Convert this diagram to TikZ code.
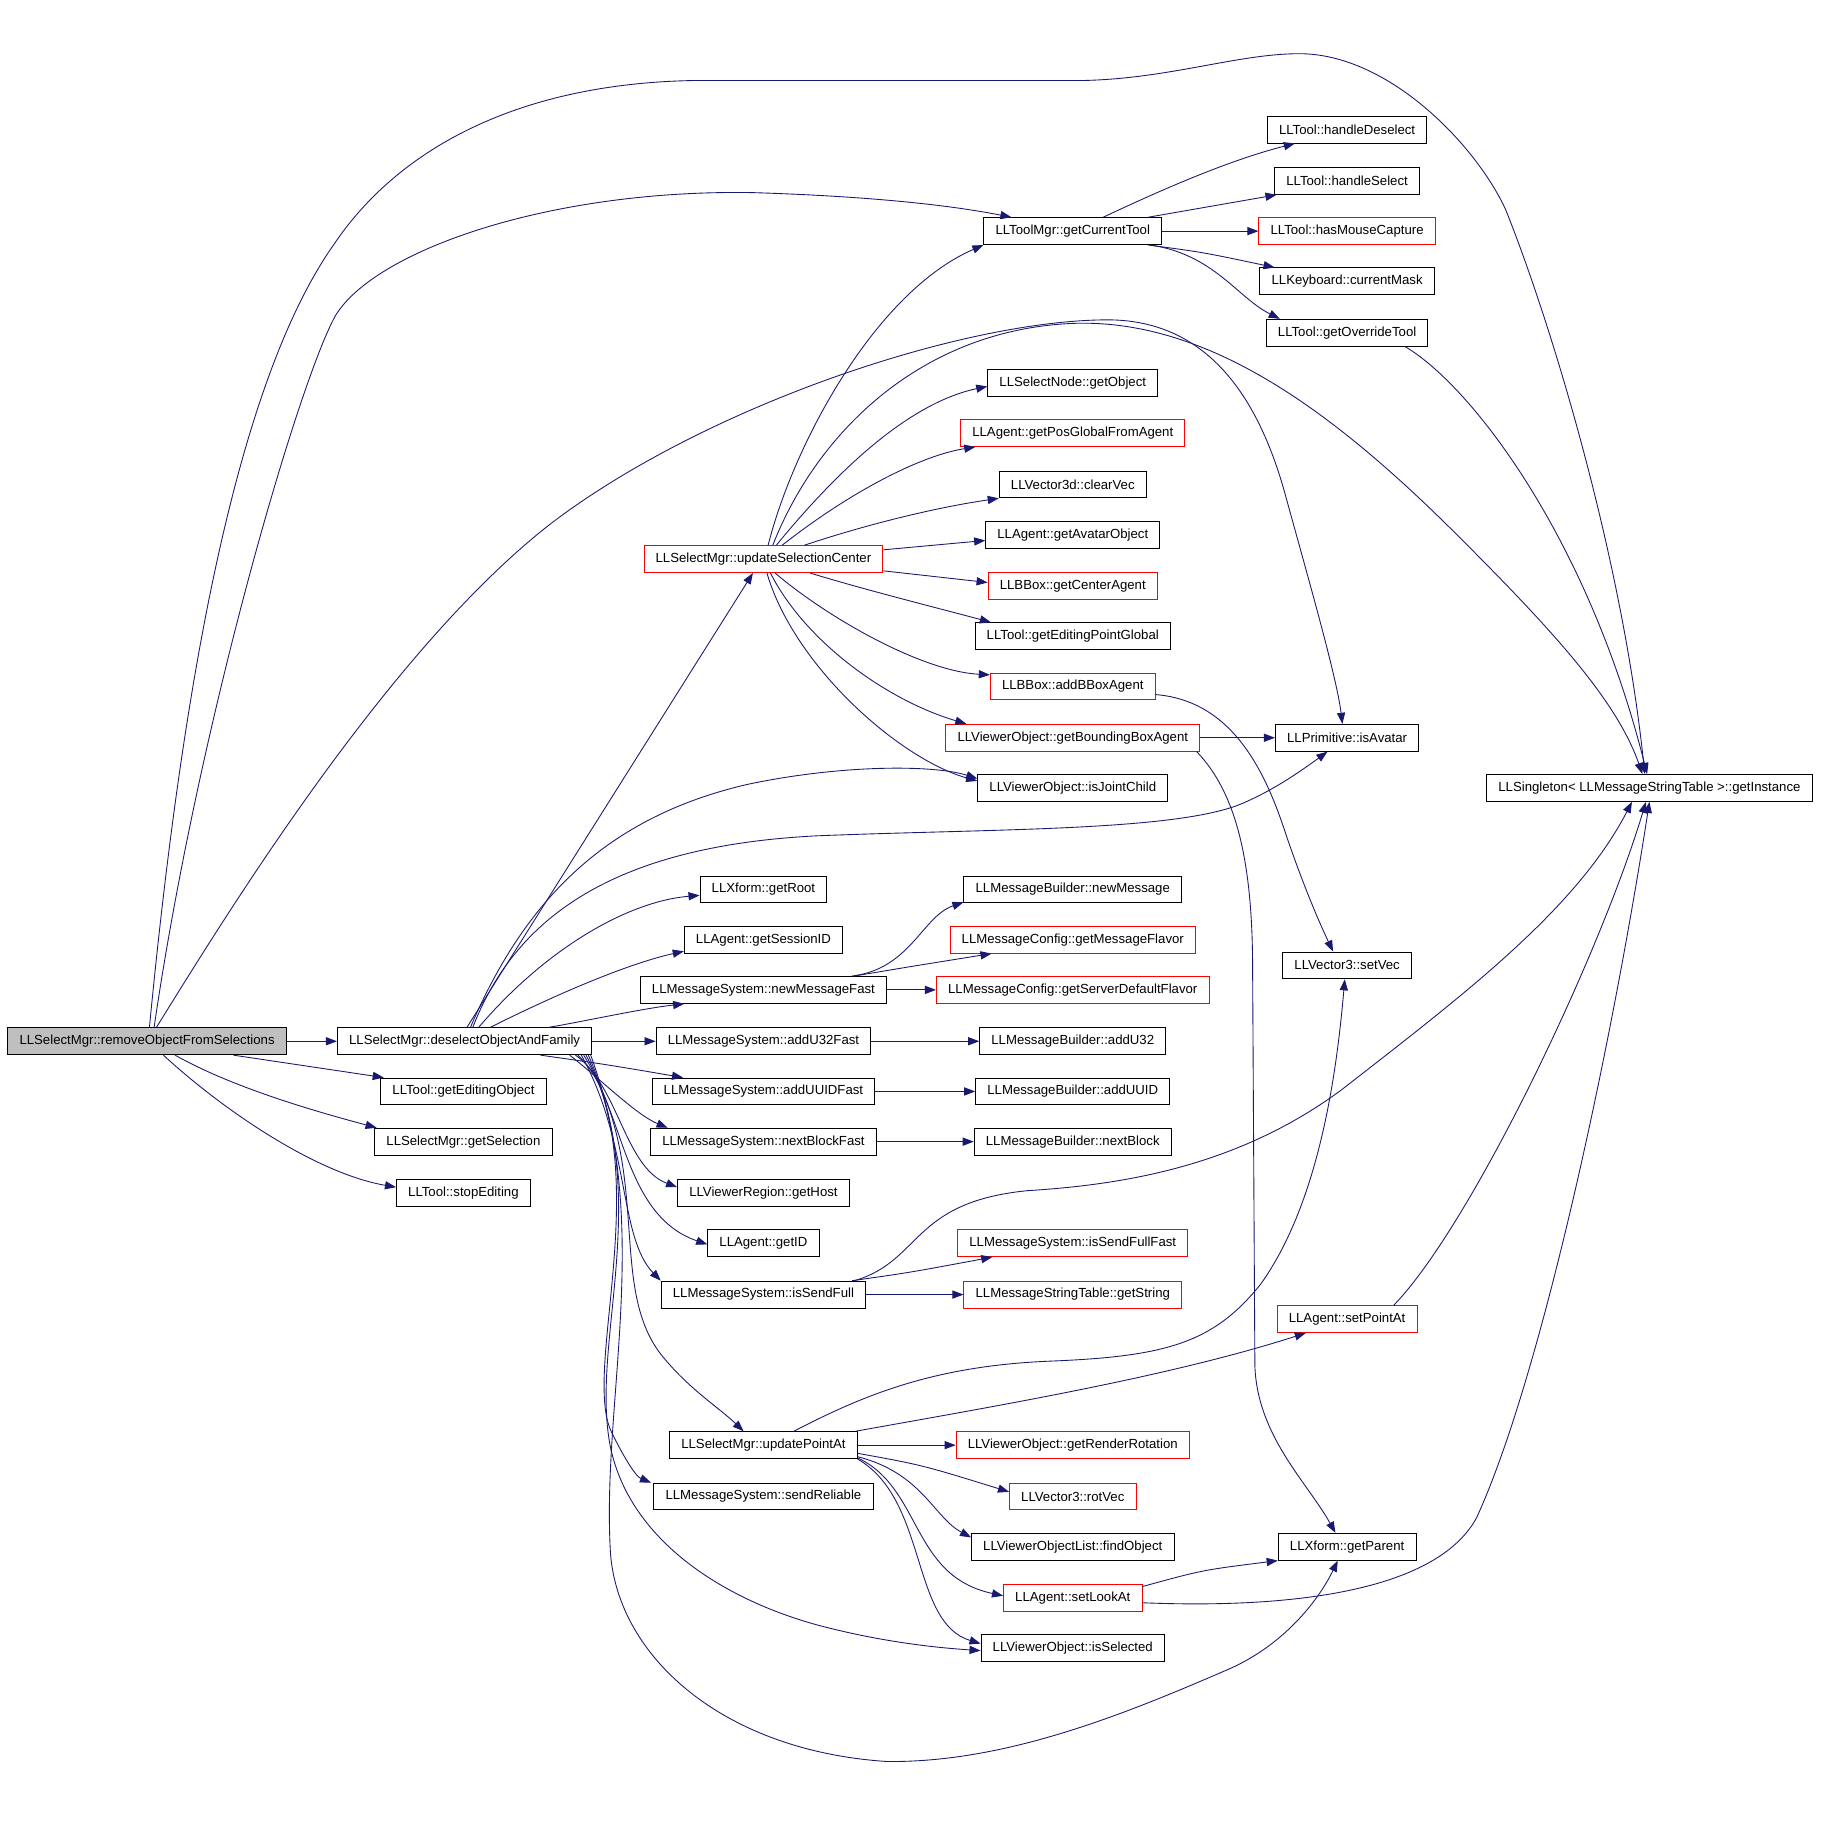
\documentclass[tikz,border=0pt]{standalone}
\usepackage{fontspec}
\setmainfont{Liberation Sans}
\usetikzlibrary{arrows.meta,calc}
\definecolor{edgeblue}{RGB}{25,25,112}
\begin{document}
\begin{tikzpicture}[x=1pt,y=-1pt,
  nd/.style={draw=black,line width=0.8pt,inner xsep=10pt,inner ysep=0pt,minimum height=23pt,font=\fontsize{11.3}{13}\selectfont,anchor=center},
  rd/.style={nd,draw=red},
  gd/.style={nd,fill=black!25},
  e/.style={draw=edgeblue,line width=0.75pt,-{Triangle[length=9.5pt,width=7pt]}},
]
\useasboundingbox[fill=white] (0,0) rectangle (1560,1569.4);
% column 1-2
\node[gd] (R) at (126,892) {LLSelectMgr::removeObjectFromSelections};
\node[nd] (D) at (398,892) {LLSelectMgr::deselectObjectAndFamily};
\node[nd] (GEO) at (397,935) {LLTool::getEditingObject};
\node[nd] (GS) at (397,978) {LLSelectMgr::getSelection};
\node[nd] (SE) at (397,1022) {LLTool::stopEditing};
% column 3
\node[rd] (U) at (654,479) {LLSelectMgr::updateSelectionCenter};
\node[nd] (GR) at (654,762) {LLXform::getRoot};
\node[nd] (SID) at (654,805) {LLAgent::getSessionID};
\node[nd] (NMF) at (654,848) {LLMessageSystem::newMessageFast};
\node[nd] (AU32F) at (654,892) {LLMessageSystem::addU32Fast};
\node[nd] (AUUF) at (654,935) {LLMessageSystem::addUUIDFast};
\node[nd] (NBF) at (654,978) {LLMessageSystem::nextBlockFast};
\node[nd] (GH) at (654,1022) {LLViewerRegion::getHost};
\node[nd] (GID) at (654,1065) {LLAgent::getID};
\node[nd] (ISF) at (654,1109) {LLMessageSystem::isSendFull};
\node[nd] (UPA) at (654,1238) {LLSelectMgr::updatePointAt};
\node[nd] (SR) at (654,1282) {LLMessageSystem::sendReliable};
% column 4
\node[nd] (T) at (919,198) {LLToolMgr::getCurrentTool};
\node[nd] (SNGO) at (919,328) {LLSelectNode::getObject};
\node[rd] (GPGA) at (919,371) {LLAgent::getPosGlobalFromAgent};
\node[nd] (CV) at (919,415) {LLVector3d::clearVec};
\node[nd] (GAO) at (919,458) {LLAgent::getAvatarObject};
\node[rd] (GCA) at (919,502) {LLBBox::getCenterAgent};
\node[nd] (GEPG) at (919,545) {LLTool::getEditingPointGlobal};
\node[rd] (ABA) at (919,588) {LLBBox::addBBoxAgent};
\node[rd] (GBBA) at (919,632) {LLViewerObject::getBoundingBoxAgent};
\node[nd] (IJC) at (919,675) {LLViewerObject::isJointChild};
\node[nd] (NM) at (919,762) {LLMessageBuilder::newMessage};
\node[rd] (GMF) at (919,805) {LLMessageConfig::getMessageFlavor};
\node[rd] (GSDF) at (919,848) {LLMessageConfig::getServerDefaultFlavor};
\node[nd] (AU32) at (919,892) {LLMessageBuilder::addU32};
\node[nd] (AUU) at (919,935) {LLMessageBuilder::addUUID};
\node[nd] (NB) at (919,978) {LLMessageBuilder::nextBlock};
\node[rd] (ISFF) at (919,1065) {LLMessageSystem::isSendFullFast};
\node[rd] (GSTR) at (919,1109) {LLMessageStringTable::getString};
\node[rd] (GRR) at (919,1238) {LLViewerObject::getRenderRotation};
\node[rd] (RV) at (919,1282) {LLVector3::rotVec};
\node[nd] (FO) at (919,1325) {LLViewerObjectList::findObject};
\node[rd] (SLA) at (919,1369) {LLAgent::setLookAt};
\node[nd] (IS) at (919,1412) {LLViewerObject::isSelected};
% column 5
\node[nd] (HD) at (1154,111) {LLTool::handleDeselect};
\node[nd] (HS) at (1154,155) {LLTool::handleSelect};
\node[rd] (HMC) at (1154,198) {LLTool::hasMouseCapture};
\node[nd] (CM) at (1154,241) {LLKeyboard::currentMask};
\node[nd] (GOT) at (1154,285) {LLTool::getOverrideTool};
\node[nd] (IA) at (1154,632) {LLPrimitive::isAvatar};
\node[nd] (SV) at (1154,827) {LLVector3::setVec};
\node[rd] (SPA) at (1154,1130) {LLAgent::setPointAt};
\node[nd] (GP) at (1154,1325) {LLXform::getParent};
% column 6
\node[nd] (LS) at (1413,675) {LLSingleton< LLMessageStringTable >::getInstance};

% ---- edges from R
\draw[e] (R) -- (D);
\draw[e] ($(R.south)+(74,0)$) -- ($(GEO.north west)+(3,0)$);
\draw[e] ($(R.south)+(24,0)$) .. controls (200,932) and (270,952) .. ($(GS.north west)+(2,0)$);
\draw[e] ($(R.south)+(14,0)$) .. controls (190,950) and (270,1005) .. ($(SE.west)+(0,-5)$);
\draw[e] ($(R.north)+(2,0)$) .. controls (155,600) and (200,330) .. (287,208) .. controls (340,130) and (440,72) .. (593,69) -- (925,69) .. controls (1000,68) and (1060,46) .. (1113,46) .. controls (1190,46) and (1265,125) .. (1290,180) .. controls (1330,280) and (1390,480) .. ($(LS.north)+(-4,0)$);
\draw[e] ($(R.north)+(6,0)$) .. controls (170,620) and (255,330) .. (287,271) .. controls (320,215) and (470,162) .. (645,165) .. controls (740,168) and (810,175) .. ($(T.north west)+(24,0)$);
\draw[e] ($(R.north)+(8,0)$) .. controls (190,790) and (330,560) .. (470,450) .. controls (600,350) and (820,275) .. (947,274) .. controls (1040,273) and (1080,350) .. (1100,420) .. controls (1122,500) and (1145,580) .. ($(IA.north)+(-4,0)$);

% ---- edges from U
\draw[e] ($(U.north)+(8,0)$) .. controls (700,370) and (790,282) .. (920,277) .. controls (1040,273) and (1150,360) .. (1250,460) .. controls (1330,540) and (1385,600) .. ($(LS.north)+(-6,0)$);
\draw[e] ($(U.north)+(4,0)$) .. controls (680,380) and (750,250) .. (T.south west);
\draw[e] ($(U.north)+(11,0)$) .. controls (720,400) and (780,345) .. ($(SNGO.west)+(0,3)$);
\draw[e] ($(U.north)+(16,0)$) .. controls (730,420) and (790,390) .. ($(GPGA.south west)+(13,0)$);
\draw[e] ($(U.north)+(35,0)$) .. controls (740,450) and (800,435) .. (CV.south west);
\draw[e] ($(U.east)+(0,-8)$) -- ($(GAO.west)+(0,5)$);
\draw[e] ($(U.east)+(0,10)$) -- ($(GCA.west)+(0,-3)$);
\draw[e] ($(U.south)+(40,0)$) .. controls (740,505) and (800,520) .. ($(GEPG.north west)+(14,0)$);
\draw[e] ($(U.south)+(10,0)$) .. controls (710,530) and (790,575) .. ($(ABA.north west)+(0,2)$);
\draw[e] ($(U.south)+(6,0)$) .. controls (690,550) and (760,600) .. ($(GBBA.north west)+(18,0)$);
\draw[e] ($(U.south)+(3,0)$) .. controls (680,570) and (770,650) .. ($(IJC.west)+(0,-6)$);

% ---- edges from D
\draw[e] ($(D.north)+(2,0)$) -- ($(U.south)+(-9,0)$);
\draw[e] ($(D.north)+(5,0)$) .. controls (450,770) and (520,700) .. (640,672) .. controls (720,655) and (800,655) .. ($(IJC.west)+(0,-8)$);
\draw[e] ($(D.north)+(7,0)$) .. controls (440,790) and (520,725) .. (700,716) .. controls (850,710) and (1000,712) .. (1060,690) .. controls (1090,678) and (1115,660) .. ($(IA.south west)+(45,0)$);
\draw[e] ($(D.north)+(12,0)$) .. controls (470,810) and (540,772) .. ($(GR.west)+(0,5)$);
\draw[e] ($(D.north)+(22,0)$) .. controls (480,850) and (540,825) .. ($(SID.south west)+(0,-2)$);
\draw[e] ($(D.north)+(72,0)$) .. controls (500,875) and (550,864) .. ($(NMF.south west)+(38,0)$);
\draw[e] (D) -- (AU32F);
\draw[e] ($(D.south)+(65,0)$) .. controls (520,912) .. ($(AUUF.north west)+(27,0)$);
\draw[e] ($(D.south)+(90,0)$) .. controls (515,925) and (545,955) .. ($(NBF.north west)+(15,0)$);
\draw[e] ($(D.south)+(95,0)$) .. controls (530,930) and (535,1000) .. ($(GH.west)+(0,-5)$);
\draw[e] ($(D.south)+(97,0)$) .. controls (535,940) and (530,1040) .. ($(GID.west)+(0,1)$);
\draw[e] ($(D.south)+(100,0)$) .. controls (540,980) and (530,1060) .. (ISF.north west);
\draw[e] ($(D.south)+(102,0)$) .. controls (560,1000) and (520,1100) .. (566,1160) .. controls (590,1190) and (615,1205) .. ($(UPA.north)+(-17,0)$);
\draw[e] ($(D.south)+(104,0)$) .. controls (560,1010) and (500,1170) .. (523,1225) .. controls (535,1250) and (545,1265) .. ($(SR.north west)+(-2,0)$);
\draw[e] ($(D.south)+(106,0)$) .. controls (560,1030) and (505,1150) .. (523,1240) .. controls (540,1320) and (620,1370) .. (700,1392) .. controls (760,1408) and (810,1412) .. ($(IS.west)+(0,2)$);
\draw[e] ($(D.south)+(108,0)$) .. controls (560,1050) and (515,1200) .. (523,1331) .. controls (530,1420) and (620,1500) .. (760,1509) .. controls (860,1510) and (960,1470) .. (1050,1431) .. controls (1100,1410) and (1130,1370) .. ($(GP.south)+(-8,0)$);

% ---- message system
\draw[e] ($(NMF.north east)+(-30,0)$) .. controls (780,830) and (790,785) .. ($(NM.south west)+(0,-1)$);
\draw[e] ($(NMF.north east)+(-28,0)$) .. controls (780,828) .. ($(GMF.south west)+(36,0)$);
\draw[e] (NMF) -- (GSDF);
\draw[e] (AU32F) -- (AU32);
\draw[e] (AUUF) -- (AUU);
\draw[e] (NBF) -- (NB);
\draw[e] ($(ISF.north east)+(-12,0)$) .. controls (780,1090) .. ($(ISFF.south west)+(30,0)$);
\draw[e] (ISF) -- (GSTR);
\draw[e] ($(ISF.north east)+(-10,0)$) .. controls (790,1080) and (780,1030) .. (880,1020) .. controls (960,1015) and (1060,1000) .. (1150,933) .. controls (1250,855) and (1350,780) .. ($(LS.south)+(-15,0)$);

% ---- right side
\draw[e] ($(GOT.south east)+(-20,0)$) .. controls (1260,330) and (1360,460) .. ($(LS.north)+(-2,0)$);
\draw[e] ($(ABA.east)+(0,7)$) .. controls (1050,600) and (1080,650) .. (1100,710) .. controls (1115,755) and (1130,790) .. ($(SV.north)+(-12,0)$);
\draw[e] (GBBA) -- (IA);
\draw[e] ($(GBBA.south east)+(-3,0)$) .. controls (1060,680) and (1072,740) .. (1073,820) -- (1075,1170) .. controls (1077,1230) and (1120,1270) .. ($(GP.north)+(-10,0)$);

% ---- updatePointAt
\draw[e] ($(UPA.north)+(26,0)$) .. controls (740,1195) and (800,1170) .. (900,1166) .. controls (1000,1162) and (1040,1150) .. (1080,1100) .. controls (1130,1030) and (1145,920) .. ($(SV.south)+(-2,0)$);
\draw[e] ($(UPA.north east)+(-2,0)$) .. controls (850,1205) and (1000,1180) .. ($(SPA.south west)+(25,0)$);
\draw[e] (UPA) -- (GRR);
\draw[e] ($(UPA.east)+(0,7)$) .. controls (790,1255) .. ($(RV.west)+(0,-4)$);
\draw[e] ($(UPA.south east)+(0,-2)$) .. controls (790,1262) and (800,1300) .. ($(FO.west)+(0,-8)$);
\draw[e] ($(UPA.south east)+(0,-1)$) .. controls (790,1275) and (780,1350) .. ($(SLA.west)+(0,-2)$);
\draw[e] (UPA.south east) .. controls (795,1285) and (780,1390) .. ($(IS.west)+(0,-4)$);
\draw[e] ($(SPA.north)+(40,0)$) .. controls (1260,1050) and (1370,820) .. ($(LS.south)+(-3,0)$);
\draw[e] ($(SLA.north east)+(0,2)$) .. controls (1030,1345) .. (GP.south west);
\draw[e] ($(SLA.east)+(0,4)$) .. controls (1100,1378) and (1230,1365) .. (1265,1300) .. controls (1320,1180) and (1380,900) .. (LS.south);

% ---- getCurrentTool
\draw[e] ($(T.north)+(26,0)$) .. controls (990,165) and (1050,138) .. ($(HD.south west)+(24,0)$);
\draw[e] ($(T.north east)+(-12,0)$) .. controls (1030,178) .. ($(HS.south west)+(2,0)$);
\draw[e] (T) -- (HMC);
\draw[e] ($(T.south east)+(-12,0)$) .. controls (1030,216) .. ($(CM.north west)+(13,0)$);
\draw[e] ($(T.south east)+(-10,0)$) .. controls (1040,218) and (1060,255) .. ($(GOT.north west)+(12,0)$);
\end{tikzpicture}
\end{document}
